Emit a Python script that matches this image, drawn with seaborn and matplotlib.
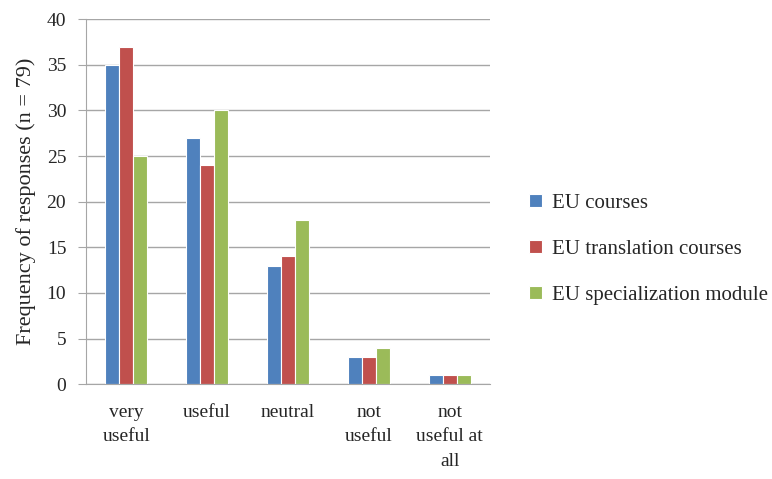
import pandas as pd
import matplotlib.pyplot as plt
import seaborn as sns

# Data
categories = ['very\nuseful', 'useful', 'neutral', 'not\nuseful', 'not\nuseful at\nall']
eu_courses = [35, 27, 13, 3, 1]
eu_translation = [37, 24, 14, 3, 1]
eu_specialization = [25, 30, 18, 4, 1]
series = ['EU courses', 'EU translation courses', 'EU specialization module']
colors = ['#4F81BD', '#C0504D', '#9BBB59']

rows = []
for name, vals in zip(series, [eu_courses, eu_translation, eu_specialization]):
    for cat, v in zip(categories, vals):
        rows.append({'category': cat, 'series': name, 'value': v})
data = pd.DataFrame(rows)

sns.set_style('white')
plt.rcParams['font.family'] = ['Liberation Serif', 'DejaVu Serif']

fig = plt.figure(figsize=(7.72, 4.79), dpi=100)
ax = fig.add_axes([0.111, 0.198, 0.524, 0.762])

sns.barplot(data=data, x='category', y='value', hue='series', palette=colors,
            saturation=1, width=0.52, edgecolor='white', linewidth=0.8, ax=ax)

ax.set_ylim(0, 40)
ax.set_yticks(range(0, 41, 5))
ax.yaxis.grid(True, color='#A6A6A6', linewidth=1)
ax.set_axisbelow(True)
for s in ['top', 'right']:
    ax.spines[s].set_visible(False)
for s in ['left', 'bottom']:
    ax.spines[s].set_color('#A6A6A6')
ax.tick_params(axis='y', length=6, color='#A6A6A6', labelsize=14, pad=8, left=True)
ax.tick_params(axis='x', length=0, labelsize=14, pad=14)
for lbl in ax.get_xticklabels():
    lbl.set_linespacing(1.6)
    lbl.set_verticalalignment('top')
ax.set_xlabel('')
ax.set_ylabel('Frequency of responses (n = 79)', fontsize=16, labelpad=8)

leg = ax.legend(loc='center left', bbox_to_anchor=(1.05, 0.37), frameon=False,
                fontsize=15, handlelength=0.6, handleheight=0.6,
                labelspacing=1.3, handletextpad=0.5)

fig.savefig('out.png', dpi=100)
